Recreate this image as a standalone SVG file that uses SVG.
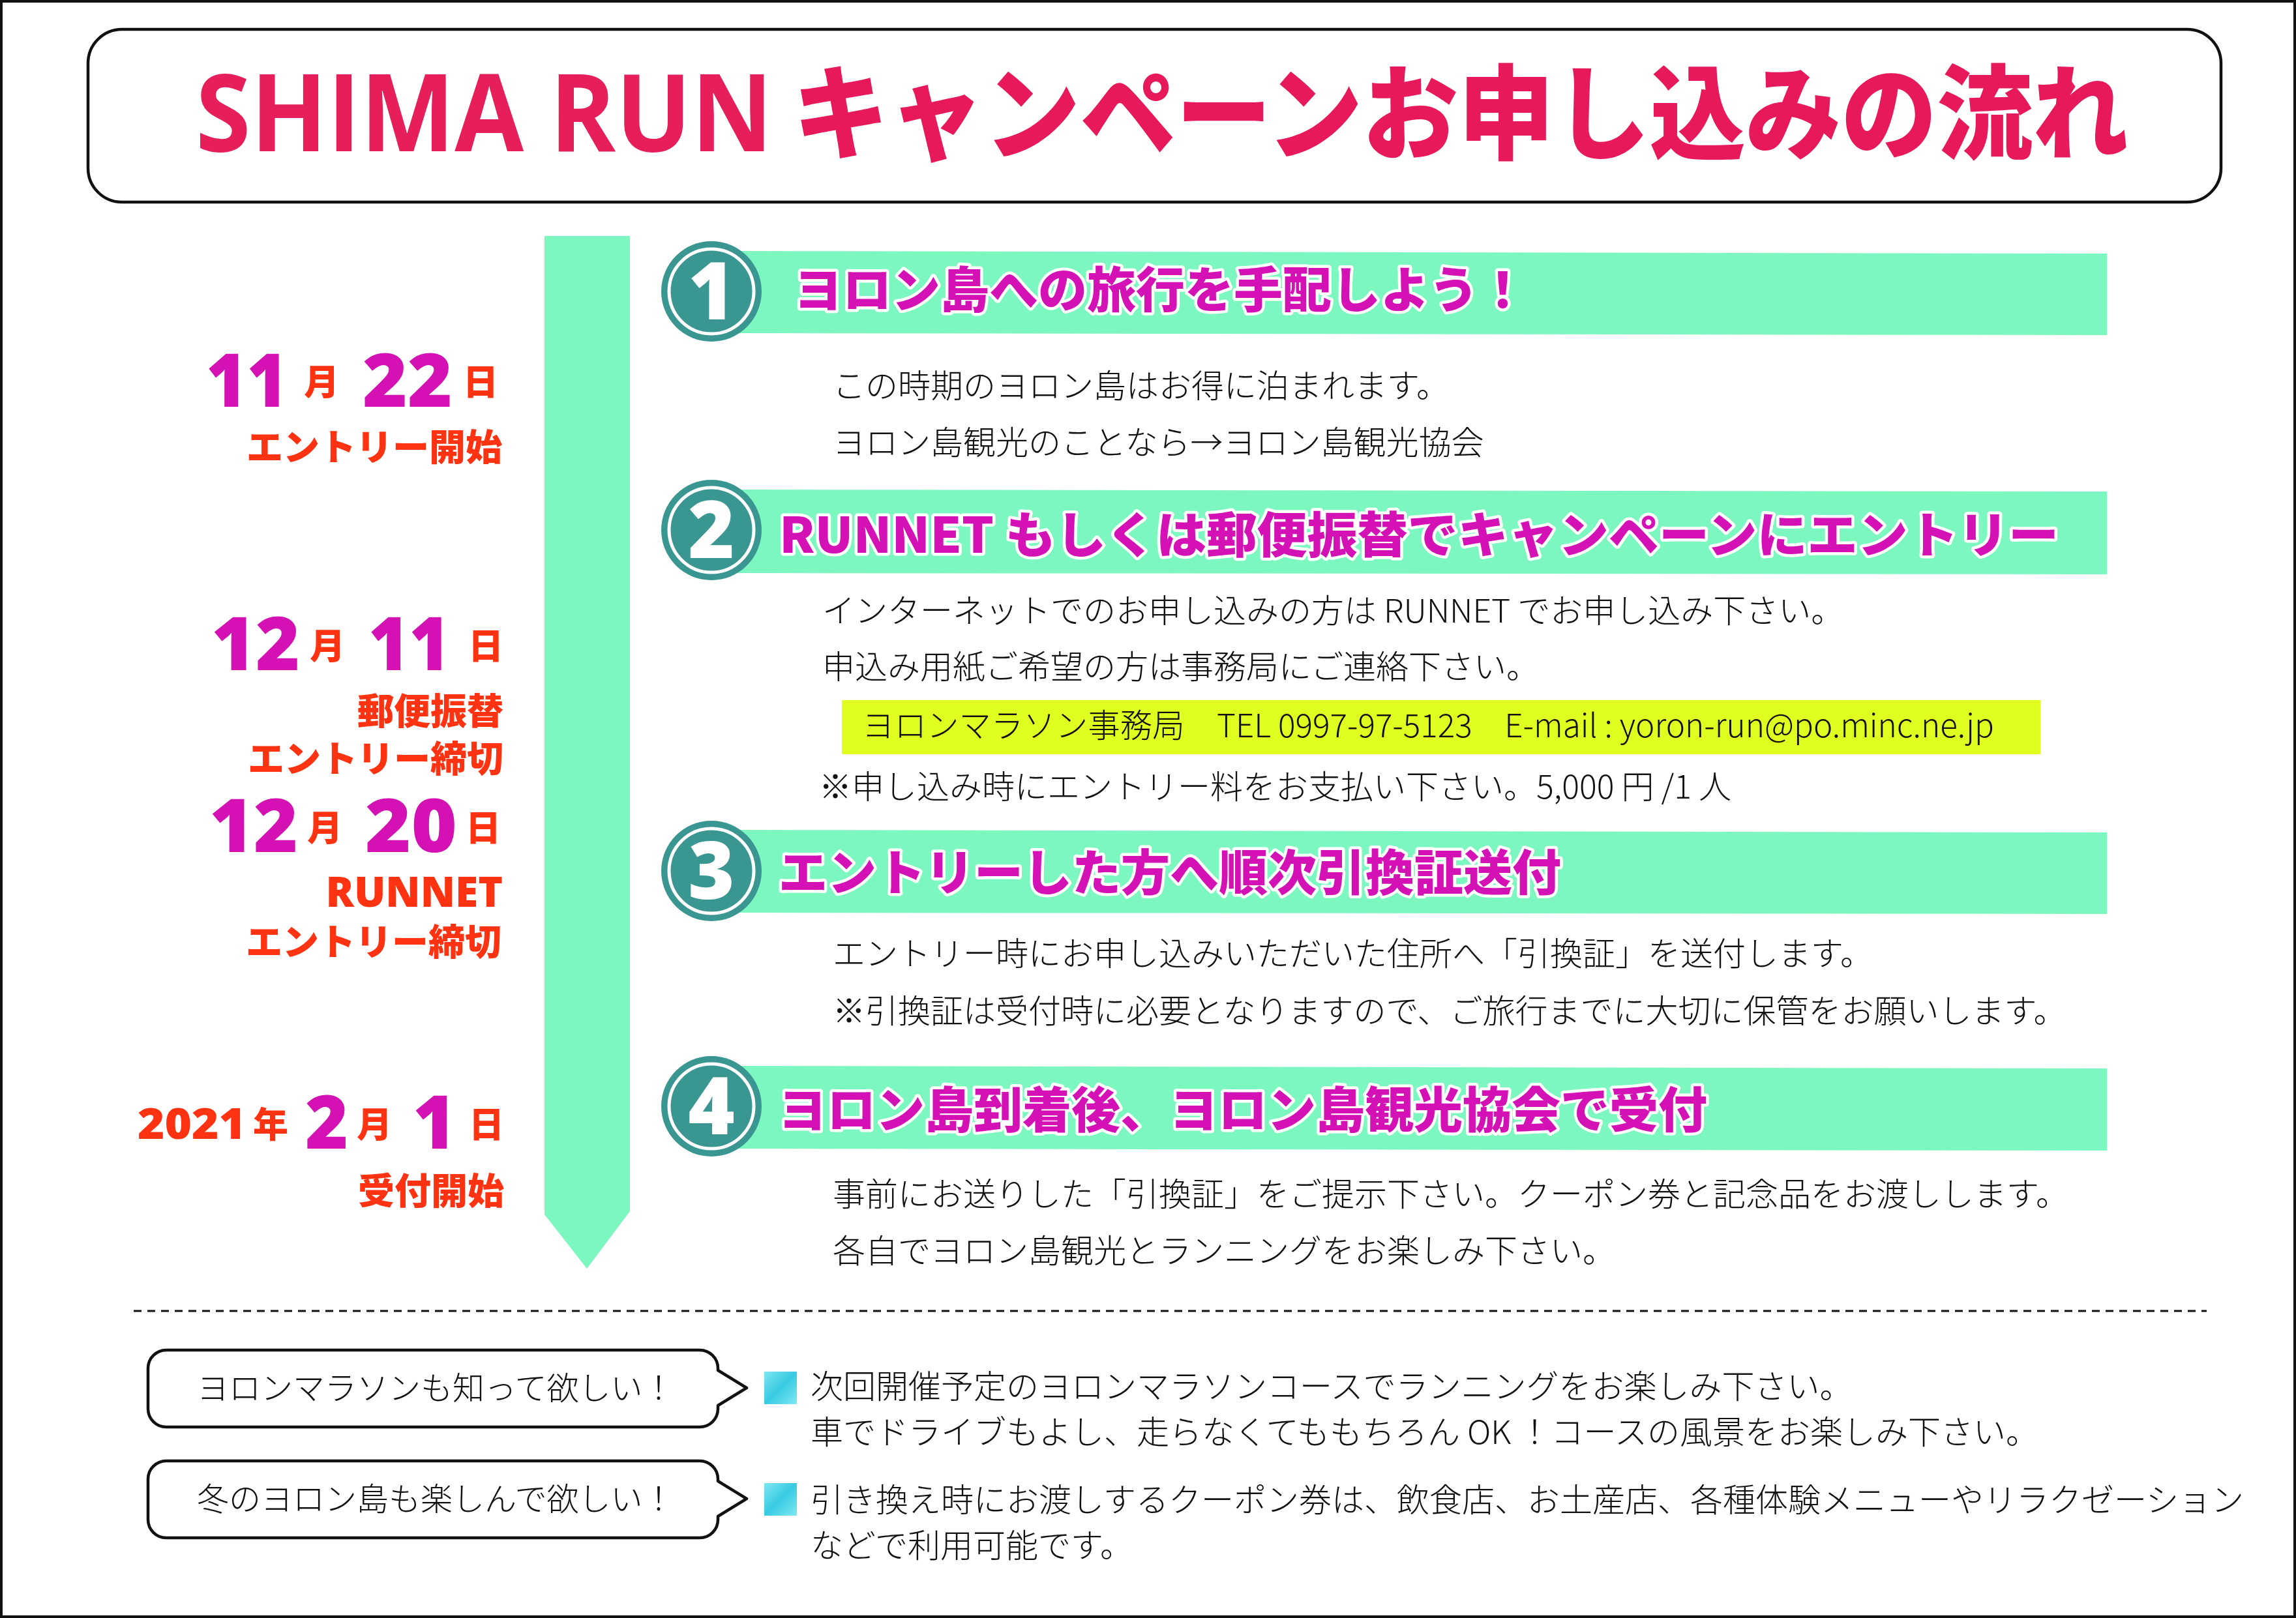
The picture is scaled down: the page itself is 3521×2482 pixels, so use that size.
<svg xmlns="http://www.w3.org/2000/svg" width="3521" height="2482" viewBox="0 0 3521 2482">
<defs>
<style>
.body{font-family:"Noto Sans CJK JP","Noto Sans",sans-serif;font-size:50px;font-weight:300;fill:#111}
.step{font-family:"Noto Sans CJK JP",sans-serif;font-size:75px;font-weight:900;fill:#D411B4;stroke:#fff;stroke-width:9;paint-order:stroke;stroke-linejoin:round}
.num{font-family:"Open Sans","Noto Sans",sans-serif;font-size:122px;font-weight:800;fill:#fff;text-anchor:middle}
.dig{font-family:"Open Sans","Noto Sans",sans-serif;font-weight:800;fill:#D412B4;font-size:113px}
.md{font-family:"Noto Sans CJK JP",sans-serif;font-weight:900;fill:#FF3311;font-size:54px}
.lbl{font-family:"Noto Sans CJK JP",sans-serif;font-weight:900;fill:#FF3311;font-size:56px;text-anchor:end}
.band{fill:#7DF7C0}
.circ{fill:#3A9690}
.ring{fill:none;stroke:#fff;stroke-width:5}
.note{font-family:"Noto Sans CJK JP",sans-serif;font-size:49px;font-weight:300;fill:#111}
.bubble{fill:#fff;stroke:#111;stroke-width:4.5;stroke-linejoin:round}
</style>
<linearGradient id="cy" x1="0" y1="0" x2="1" y2="1">
<stop offset="0" stop-color="#7FE6F0"/><stop offset="0.5" stop-color="#38CBE3"/><stop offset="1" stop-color="#80E8F2"/>
</linearGradient>
</defs>
<rect x="0" y="0" width="3521" height="2482" fill="#fff"/>
<rect x="2" y="2" width="3517" height="2478" fill="none" stroke="#111" stroke-width="4"/>

<g id="title">
<rect x="135" y="45" width="3271" height="265" rx="52" ry="52" fill="#fff" stroke="#111" stroke-width="4.5"/>
<text x="300" y="232" font-family="'Open Sans','Noto Sans',sans-serif" font-weight="700" font-size="165" fill="#E61E5A" textLength="885" lengthAdjust="spacingAndGlyphs">SHIMA RUN</text>
<text x="1216" y="232" font-family="'Noto Sans CJK JP',sans-serif" font-weight="900" font-size="158" fill="#E8195A" textLength="2048" lengthAdjust="spacingAndGlyphs">キャンペーンお申し込みの流れ</text>
</g>

<g id="connectors">
<polygon points="835,362 966,362 966,1858 900,1946 835,1863" fill="#7DF7C0"/>
</g>

<g id="dates">
<text class="dig" x="316" y="624" textLength="125" lengthAdjust="spacingAndGlyphs">11</text>
<text class="md" x="466" y="606">月</text>
<text class="dig" x="556" y="624" textLength="138" lengthAdjust="spacingAndGlyphs">22</text>
<text class="md" x="710" y="606">日</text>
<text class="lbl" x="770" y="706">エントリー開始</text>

<text class="dig" x="324" y="1028" textLength="136" lengthAdjust="spacingAndGlyphs">12</text>
<text class="md" x="475" y="1011">月</text>
<text class="dig" x="565" y="1028" textLength="125" lengthAdjust="spacingAndGlyphs">11</text>
<text class="md" x="718" y="1011">日</text>
<text class="lbl" x="772" y="1111">郵便振替</text>
<text class="lbl" x="772" y="1184">エントリー締切</text>

<text class="dig" x="321" y="1307" textLength="136" lengthAdjust="spacingAndGlyphs">12</text>
<text class="md" x="471" y="1290">月</text>
<text class="dig" x="560" y="1307" textLength="141" lengthAdjust="spacingAndGlyphs">20</text>
<text class="md" x="714" y="1290">日</text>
<text x="771" y="1391" font-family="'Open Sans','Noto Sans',sans-serif" font-weight="800" font-size="64" fill="#FF3311" text-anchor="end">RUNNET</text>
<text class="lbl" x="769" y="1465">エントリー締切</text>

<text x="211" y="1747" font-family="'Open Sans','Noto Sans',sans-serif" font-weight="800" font-size="66" fill="#FF3311" textLength="166" lengthAdjust="spacingAndGlyphs">2021</text>
<text class="md" x="388" y="1745" font-size="56">年</text>
<text class="dig" x="468" y="1762">2</text>
<text class="md" x="547" y="1745">月</text>
<text class="dig" x="633" y="1762">1</text>
<text class="md" x="719" y="1745">日</text>
<text class="lbl" x="773" y="1847">受付開始</text>
</g>

<g id="step1">
<polygon class="band" points="1130,385 3231,389 3231,514 1130,511"/>
<circle class="circ" cx="1091" cy="447" r="77"/>
<circle class="ring" cx="1091" cy="447" r="65"/>
<text class="num" x="1091" y="490">1</text>
<text class="step" x="1217" y="472">ヨロン島への旅行を手配しよう！</text>
<text class="body" x="1277" y="610">この時期のヨロン島はお得に泊まれます。</text>
<text class="body" x="1277" y="697">ヨロン島観光のことなら→ヨロン島観光協会</text>
</g>

<g id="step2">
<polygon class="band" points="1130,751 3231,754 3231,881 1130,879"/>
<circle class="circ" cx="1091" cy="813" r="77"/>
<circle class="ring" cx="1091" cy="813" r="65"/>
<text class="num" x="1091" y="856">2</text>
<text class="step" x="1195" y="848" textLength="1962" lengthAdjust="spacingAndGlyphs">RUNNET もしくは郵便振替でキャンペーンにエントリー</text>
<text class="body" x="1261" y="955">インターネットでのお申し込みの方は RUNNET でお申し込み下さい。</text>
<text class="body" x="1261" y="1041">申込み用紙ご希望の方は事務局にご連絡下さい。</text>
</g>

<g id="contact">
<rect x="1291" y="1074" width="1838" height="83" fill="#E0FF20"/>
<text class="body" x="1322" y="1131" textLength="1736" lengthAdjust="spacingAndGlyphs">ヨロンマラソン事務局　TEL 0997-97-5123　E-mail : yoron-run@po.minc.ne.jp</text>
<text class="body" x="1256" y="1225">※申し込み時にエントリー料をお支払い下さい。5,000 円 /1 人</text>
</g>

<g id="step3">
<polygon class="band" points="1130,1273 3231,1277 3231,1402 1130,1400"/>
<circle class="circ" cx="1091" cy="1336" r="77"/>
<circle class="ring" cx="1091" cy="1336" r="65"/>
<text class="num" x="1091" y="1379">3</text>
<text class="step" x="1194" y="1366">エントリーした方へ順次引換証送付</text>
<text class="body" x="1277" y="1481">エントリー時にお申し込みいただいた住所へ「引換証」を送付します。</text>
<text class="body" x="1277" y="1569">※引換証は受付時に必要となりますので、ご旅行までに大切に保管をお願いします。</text>
</g>

<g id="step4">
<polygon class="band" points="1130,1635 3231,1639 3231,1765 1130,1762"/>
<circle class="circ" cx="1091" cy="1697" r="77"/>
<circle class="ring" cx="1091" cy="1697" r="65"/>
<text class="num" x="1091" y="1740">4</text>
<text class="step" x="1193" y="1730">ヨロン島到着後、ヨロン島観光協会で受付</text>
<text class="body" x="1277" y="1850">事前にお送りした「引換証」をご提示下さい。クーポン券と記念品をお渡しします。</text>
<text class="body" x="1277" y="1937">各自でヨロン島観光とランニングをお楽しみ下さい。</text>
</g>

<g id="divider">
<line x1="205" y1="2011" x2="3384" y2="2011" stroke="#111" stroke-width="3" stroke-dasharray="12 9"/>
</g>

<g id="note1">
<path class="bubble" d="M255,2071 H1073 A28,28 0 0 1 1101,2099 V2102 L1145,2129 L1101,2156 V2161 A28,28 0 0 1 1073,2189 H255 A28,28 0 0 1 227,2161 V2099 A28,28 0 0 1 255,2071 Z"/>
<text class="note" x="302" y="2147">ヨロンマラソンも知って欲しい！</text>
<rect x="1172" y="2104" width="50" height="50" fill="url(#cy)"/>
<text class="body" x="1243" y="2145">次回開催予定のヨロンマラソンコースでランニングをお楽しみ下さい。</text>
<text class="body" x="1243" y="2215">車でドライブもよし、走らなくてももちろん OK ！コースの風景をお楽しみ下さい。</text>
</g>

<g id="note2">
<path class="bubble" d="M255,2241 H1073 A28,28 0 0 1 1101,2269 V2272 L1145,2299 L1101,2326 V2331 A28,28 0 0 1 1073,2359 H255 A28,28 0 0 1 227,2331 V2269 A28,28 0 0 1 255,2241 Z"/>
<text class="note" x="302" y="2317">冬のヨロン島も楽しんで欲しい！</text>
<rect x="1172" y="2275" width="50" height="50" fill="url(#cy)"/>
<text class="body" x="1243" y="2319">引き換え時にお渡しするクーポン券は、飲食店、お土産店、各種体験メニューやリラクゼーション</text>
<text class="body" x="1243" y="2389">などで利用可能です。</text>
</g>
</svg>
